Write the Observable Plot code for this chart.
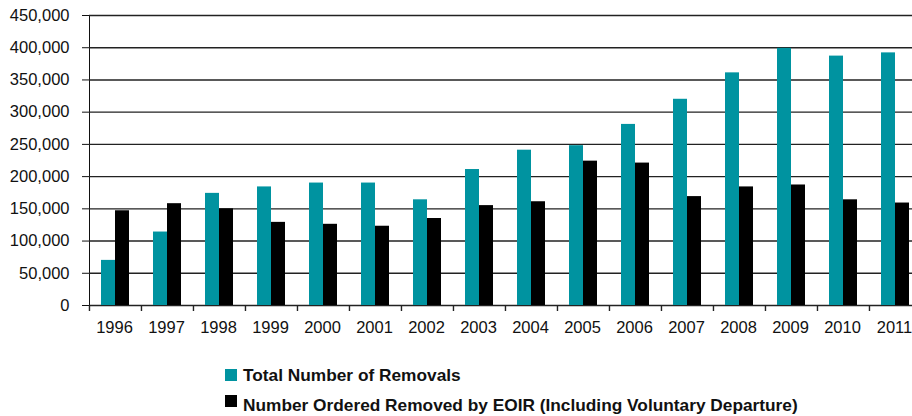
<!DOCTYPE html>
<html>
<head>
<meta charset="utf-8">
<script src="https://cdn.jsdelivr.net/npm/d3@7"></script>
<script src="https://cdn.jsdelivr.net/npm/@observablehq/plot@0.6"></script>
<style>
  html, body { margin: 0; padding: 0; background: #fff; overflow: hidden; }
  #wrap { width: 912px; height: 416px; overflow: hidden; position: relative; font-family: "Liberation Sans", Arial, sans-serif; }
  #chart { width: 912px; overflow: hidden; }
  .legend { position: absolute; left: 225px; top: 360px; font-weight: bold; font-size: 17.3px; color: #111; }
  .row { display: flex; align-items: center; height: 30px; }
  .sw { width: 12px; height: 12px; margin-right: 6px; flex: none; }
</style>
</head>
<body>
<div id="wrap">
  <div id="chart"></div>
  <div class="legend" id="legend"></div>
</div>
<script>
const years = ["1996","1997","1998","1999","2000","2001","2002","2003","2004","2005","2006","2007","2008","2009","2010","2011"];
const totalRemovals = [70000, 114000, 174000, 184000, 190000, 190000, 164000, 211000, 241000, 248000, 281000, 320000, 361000, 399000, 387000, 392000];
const eoirRemovals = [147000, 158000, 150000, 129000, 126000, 123000, 135000, 155000, 161000, 224000, 221000, 169000, 184000, 187000, 164000, 159000];
const seriesNames = ["Total Number of Removals", "Number Ordered Removed by EOIR (Including Voluntary Departure)"];
const seriesColors = ["#0093A0", "#000000"];
const yTicks = [0, 50000, 100000, 150000, 200000, 250000, 300000, 350000, 400000, 450000];

const data = [];
years.forEach((yr, i) => {
  data.push({year: yr, series: seriesNames[0], value: totalRemovals[i]});
  data.push({year: yr, series: seriesNames[1], value: eoirRemovals[i]});
});

const W = 912, ML = 88, MR = -9;
const step = (W - ML - MR) / years.length;
const lineColor = "#222";

const plot = Plot.plot({
  width: W,
  height: 345,
  marginLeft: ML,
  marginRight: MR,
  marginTop: 15,
  marginBottom: 40,
  style: {fontFamily: '"Liberation Sans", Arial, sans-serif', fontSize: "16.5px", color: "#111", background: "white", overflow: "hidden"},
  fx: {domain: years, paddingInner: 0, paddingOuter: 0, label: null, axis: null},
  x: {domain: seriesNames, paddingInner: 0, paddingOuter: 0.8, axis: null},
  y: {domain: [0, 450000], ticks: yTicks, tickFormat: d3.format(","), tickSize: 7, tickPadding: 13, line: true, label: null},
  color: {domain: seriesNames, range: seriesColors},
  marks: [
    Plot.gridY(yTicks, {stroke: lineColor, strokeOpacity: 1, strokeWidth: 1.4}),
    Plot.barY(data, {fx: "year", x: "series", y: "value", fill: "series"}),
    Plot.axisFx({anchor: "bottom", tickSize: 0, tickPadding: 16, dx: -1, label: null}),
    Plot.axisFx({anchor: "bottom", tickSize: 6, tickFormat: () => "", dx: -step / 2, stroke: lineColor, strokeWidth: 1.4, label: null})
  ]
});
document.getElementById("chart").appendChild(plot);

// legend
const legend = d3.select("#legend");
seriesNames.forEach((name, i) => {
  const row = legend.append("div").attr("class", "row");
  row.append("div").attr("class", "sw").style("background", seriesColors[i])
    .style("position", "relative").style("top", i === 1 ? "-4px" : "0px");
  row.append("span").text(name);
});
</script>
</body>
</html>
